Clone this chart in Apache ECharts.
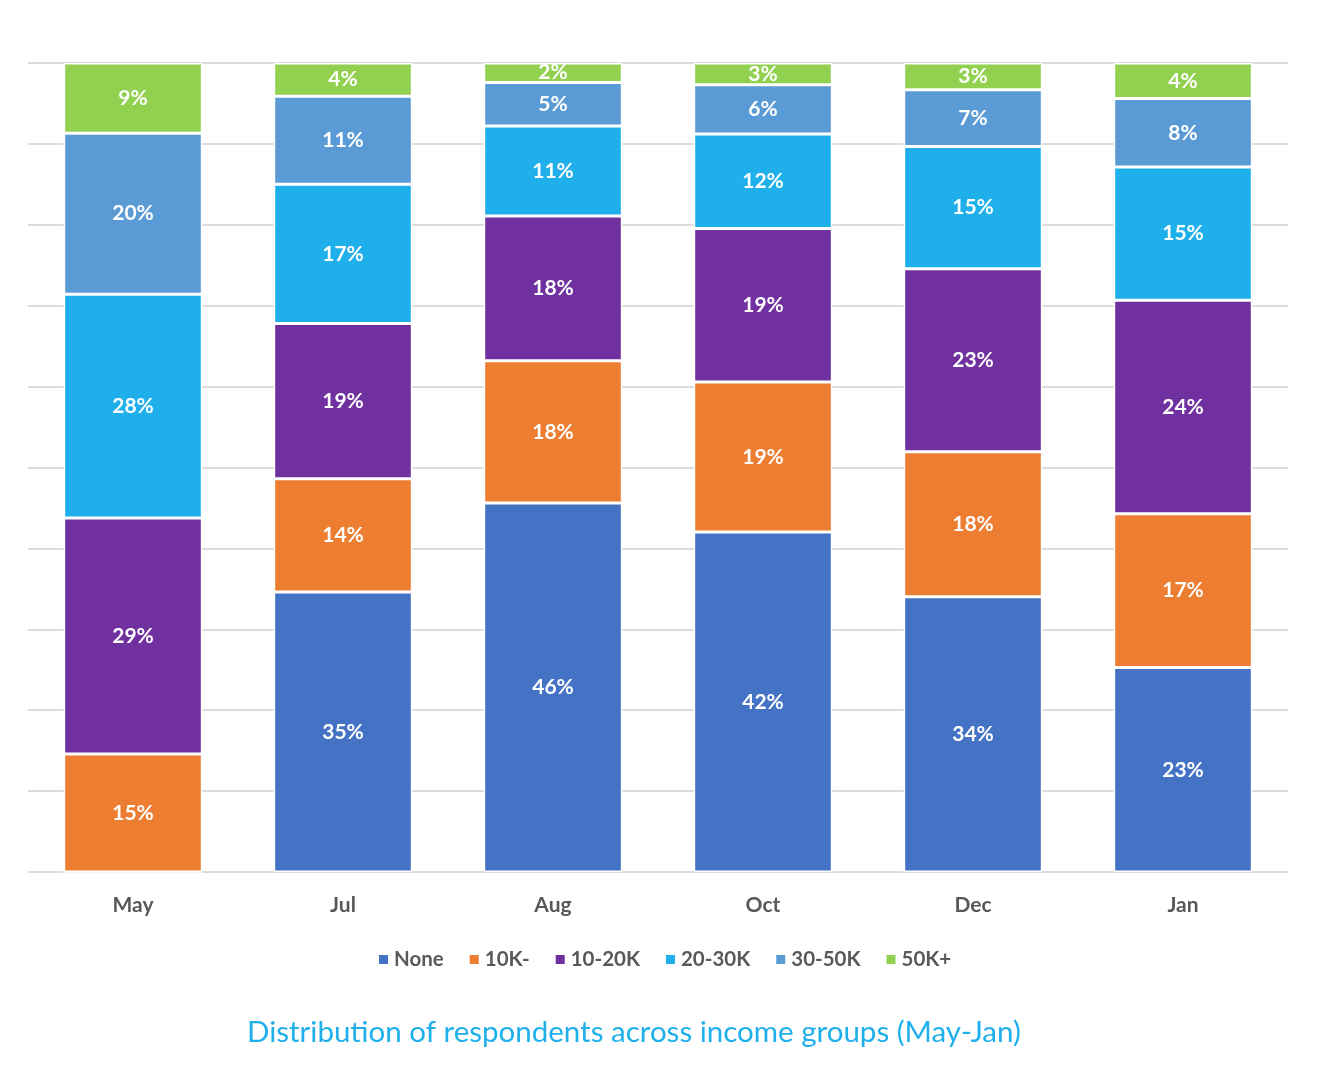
<!DOCTYPE html>
<html>
<head>
<meta charset="utf-8">
<script src="https://cdn.jsdelivr.net/npm/echarts@6/dist/echarts.min.js"></script>
<style>
  html, body { margin: 0; padding: 0; background: #fff; }
  #chart { width: 1318px; height: 1070px; }
</style>
</head>
<body>
<div id="chart"></div>
<script>
// Categories (months)
const months = ['May', 'Jul', 'Aug', 'Oct', 'Dec', 'Jan'];
// Series names (income groups)
const groups = ['None', '10K-', '10-20K', '20-30K', '30-50K', '50K+'];
// Percent of respondents per group (estimated; labels show rounded values)
const noneVals   = [0,    34.6, 45.6, 42.1, 34.0, 23.0];
const k10Vals    = [14.6, 14.0, 17.6, 18.6, 17.9, 17.3];
const k10_20Vals = [29.2, 19.2, 17.9, 19.0, 22.6, 24.0];
const k20_30Vals = [27.7, 17.2, 11.1, 11.7, 15.1, 15.0];
const k30_50Vals = [19.9, 10.9, 5.4,  6.1,  7.0,  7.7];
const k50Vals    = [8.7,  4.1,  2.4,  2.7,  3.3,  4.0];
const colors = ['#4472C4', '#ED7D31', '#7030A0', '#1FB0EC', '#5B9BD5', '#92D050'];

const allVals = [noneVals, k10Vals, k10_20Vals, k20_30Vals, k30_50Vals, k50Vals];
// 100% stacked: each column normalized to its total
const totals = months.map((m, i) => allVals.reduce((s, arr) => s + arr[i], 0));

const FONT = 'Lato';

const series = groups.map((g, si) => ({
  name: g,
  type: 'bar',
  stack: 'total',
  barWidth: '66%',
  itemStyle: { color: colors[si], borderColor: '#ffffff', borderWidth: 1.5 },
  label: {
    show: true,
    position: 'inside',
    color: '#ffffff',
    fontFamily: FONT,
    fontWeight: 'bold',
    fontSize: 21,
    formatter: p => (p.data.raw > 0 ? Math.round(p.data.raw) + '%' : '')
  },
  data: allVals[si].map((v, i) => ({ value: v / totals[i] * 100, raw: v }))
}));

const chart = echarts.init(document.getElementById('chart'));
chart.setOption({
  animation: false,
  backgroundColor: '#ffffff',
  title: {
    text: 'Distribution of respondents across income groups (May-Jan)',
    left: 242,
    top: 1012,
    textStyle: { color: '#1FB0EC', fontFamily: FONT, fontWeight: 'normal', fontSize: 29.5 }
  },
  legend: {
    data: groups,
    top: 944,
    left: 372,
    itemWidth: 11,
    itemHeight: 11,
    itemGap: 24,
    icon: 'rect',
    textStyle: { color: '#595959', fontFamily: FONT, fontWeight: 'bold', fontSize: 20.5 }
  },
  grid: { left: 28, right: 30, top: 63, bottom: 198, containLabel: false },
  xAxis: {
    type: 'category',
    data: months,
    axisLine: { show: false },
    axisTick: { show: false },
    axisLabel: { color: '#595959', fontFamily: FONT, fontWeight: 'bold', fontSize: 21, margin: 23 }
  },
  yAxis: {
    type: 'value',
    min: 0,
    max: 100,
    interval: 10,
    axisLabel: { show: false },
    axisLine: { show: false },
    axisTick: { show: false },
    splitLine: { lineStyle: { color: '#DCDCDC', width: 2 } }
  },
  series: series
});
</script>
</body>
</html>
